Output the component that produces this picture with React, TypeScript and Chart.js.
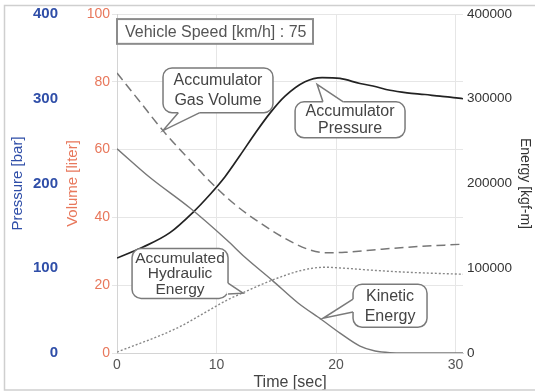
import React, { useEffect, useRef } from "react";
import { Chart, registerables } from "chart.js";

Chart.register(...registerables);

// ---- Data (time axis as drawn; left edge is labelled "0") ----
const X_MIN = 1.67;
const X_MAX = 30.62;
const xTickValues = [X_MIN, 10, 20, 30];
const xTickLabels = ["0", "10", "20", "30"];

const pressureTime = [1.67, 3.85, 6.1, 8.03, 9.45, 10.71, 11.96, 13.22, 14.47, 15.73, 17.4, 18.83, 20.33, 22.0, 23.09, 24.51, 25.94, 27.44, 28.7, 29.53, 30.62];
const pressureBar = [112, 125, 142, 166, 187, 208, 233, 259, 283, 303, 320, 325, 324, 318, 315, 310, 307, 305, 303, 302, 300];

const gasTime = [1.67, 3.59, 5.52, 7.78, 9.62, 11.54, 13.47, 15.73, 17.65, 19.08, 20.75, 23.09, 25.94, 30.62];
const gasVolume = [82.6, 74.1, 65.6, 56.8, 50.0, 43.8, 38.8, 33.8, 30.6, 29.6, 29.7, 30.4, 31.2, 32.1];

const kineticTime = [1.67, 4.43, 7.78, 10.88, 12.38, 14.64, 16.82, 18.83, 20.33, 22.0, 23.26, 24.51, 27.28, 30.62];
const kineticEnergy = [241000, 207000, 171000, 133000, 113000, 86000, 59000, 39000, 23500, 8200, 2400, 500, 0, 0];

const hydraulicTime = [1.67, 6.69, 10.88, 12.13, 14.64, 17.15, 19.08, 20.75, 23.09, 25.94, 30.62];
const hydraulicEnergy = [1000, 29400, 62400, 70600, 85900, 97600, 101200, 100000, 97600, 95300, 92900];

const speedLabel = "Vehicle Speed [km/h] : 75";

// Callouts: box in (time, volume-axis) units; tip on a data axis
type Callout = {
  lines: string[];
  x0: number; x1: number; y0: number; y1: number;
  tipX: number; tipY: number; tipAxis: string;
  side: "top" | "bottom" | "left" | "right";
  b0: number; b1: number; lineH: number; size: number;
};

const callouts: Callout[] = [
  { lines: ["Accumulator", "Gas Volume"], x0: 5.52, x1: 14.72, y0: 84.1, y1: 70.9, tipX: 5.52, tipY: 65.6, tipAxis: "vol", side: "bottom", b0: 6.8, b1: 8.6, lineH: 20, size: 16 },
  { lines: ["Accumulator", "Pressure"], x0: 16.57, x1: 25.77, y0: 74.1, y1: 63.5, tipX: 18.41, tipY: 317, tipAxis: "pressure", side: "top", b0: 18.9, b1: 20.6, lineH: 17, size: 16 },
  { lines: ["Accumulated", "Hydraulic", "Energy"], x0: 2.93, x1: 10.96, y0: 30.8, y1: 16.1, tipX: 12.21, tipY: 70600, tipAxis: "energy", side: "right", b0: 20.6, b1: 17.4, lineH: 15.5, size: 15.5 },
  { lines: ["Kinetic", "Energy"], x0: 21.42, x1: 27.61, y0: 20.3, y1: 7.6, tipX: 18.91, tipY: 41000, tipAxis: "energy", side: "left", b0: 15.9, b1: 12.1, lineH: 20, size: 16 },
];

const FONT = "'Liberation Sans', Arial, sans-serif";

const toPts = (xs: number[], ys: number[]) => xs.map((x, i) => ({ x, y: ys[i] }));

const overlayPlugin = {
  id: "overlay",
  afterDatasetsDraw(chart: any) {
    const ctx: CanvasRenderingContext2D = chart.ctx;
    const xs = chart.scales.x;
    const vs = chart.scales.vol;
    ctx.save();
    // speed box
    {
      const L = xs.getPixelForValue(X_MIN);
      const R = xs.getPixelForValue(18.07);
      const T = vs.getPixelForValue(98.5);
      const B = vs.getPixelForValue(91.2);
      ctx.fillStyle = "#fff";
      ctx.fillRect(L, T, R - L, B - T);
      ctx.strokeStyle = "#8c8c8c";
      ctx.lineWidth = 2;
      ctx.strokeRect(L, T, R - L, B - T);
      ctx.fillStyle = "#555";
      ctx.font = `16px ${FONT}`;
      ctx.textAlign = "left";
      ctx.textBaseline = "middle";
      ctx.fillText(speedLabel, L + 8, (T + B) / 2 + 1);
    }
    for (const c of callouts) {
      const L = xs.getPixelForValue(c.x0);
      const R = xs.getPixelForValue(c.x1);
      const T = vs.getPixelForValue(c.y0);
      const B = vs.getPixelForValue(c.y1);
      const tx = xs.getPixelForValue(c.tipX);
      const ty = chart.scales[c.tipAxis].getPixelForValue(c.tipY);
      let p0: number[], p1: number[];
      if (c.side === "bottom") { p0 = [xs.getPixelForValue(c.b0), B]; p1 = [xs.getPixelForValue(c.b1), B]; }
      else if (c.side === "top") { p0 = [xs.getPixelForValue(c.b0), T]; p1 = [xs.getPixelForValue(c.b1), T]; }
      else if (c.side === "left") { p0 = [L, vs.getPixelForValue(c.b0)]; p1 = [L, vs.getPixelForValue(c.b1)]; }
      else { p0 = [R, vs.getPixelForValue(c.b0)]; p1 = [R, vs.getPixelForValue(c.b1)]; }
      ctx.lineWidth = 1.5;
      ctx.strokeStyle = "#7a7a7a";
      ctx.fillStyle = "#fff";
      ctx.beginPath();
      (ctx as any).roundRect(L, T, R - L, B - T, 9);
      ctx.fill();
      ctx.stroke();
      ctx.beginPath();
      ctx.moveTo(p0[0], p0[1]);
      ctx.lineTo(tx, ty);
      ctx.lineTo(p1[0], p1[1]);
      ctx.closePath();
      ctx.fill();
      ctx.beginPath();
      ctx.moveTo(p0[0], p0[1]);
      ctx.lineTo(p1[0], p1[1]);
      ctx.strokeStyle = "#fff";
      ctx.lineWidth = 3;
      ctx.stroke();
      ctx.beginPath();
      ctx.moveTo(p0[0], p0[1]);
      ctx.lineTo(tx, ty);
      ctx.lineTo(p1[0], p1[1]);
      ctx.strokeStyle = "#7a7a7a";
      ctx.lineWidth = 1.5;
      ctx.stroke();
      ctx.fillStyle = "#444";
      ctx.font = `${c.size}px ${FONT}`;
      ctx.textAlign = "center";
      ctx.textBaseline = "middle";
      const cx = (L + R) / 2;
      const cy = (T + B) / 2;
      const n = c.lines.length;
      c.lines.forEach((s, i) => {
        ctx.fillText(s, cx, cy + (i - (n - 1) / 2) * c.lineH + 0.5);
      });
    }
    ctx.restore();
  },
  afterDraw(chart: any) {
    const ctx: CanvasRenderingContext2D = chart.ctx;
    ctx.save();
    ctx.strokeStyle = "#cfcfcf";
    ctx.lineWidth = 1.5;
    ctx.strokeRect(4.5, 5.5, 540, 384.5);
    ctx.restore();
  },
};

export default function App() {
  const ref = useRef<HTMLCanvasElement | null>(null);
  useEffect(() => {
    if (!ref.current) return;
    Chart.defaults.font.family = FONT;
    const chart = new Chart(ref.current, {
      type: "line",
      data: {
        datasets: [
          { label: "Kinetic Energy", data: toPts(kineticTime, kineticEnergy), yAxisID: "energy", borderColor: "#777", borderWidth: 1.4, pointRadius: 0, cubicInterpolationMode: "monotone" },
          { label: "Accumulated Hydraulic Energy", data: toPts(hydraulicTime, hydraulicEnergy), yAxisID: "energy", borderColor: "#888", borderWidth: 1.4, borderDash: [2, 2], pointRadius: 0, cubicInterpolationMode: "monotone" },
          { label: "Accumulator Gas Volume", data: toPts(gasTime, gasVolume), yAxisID: "vol", borderColor: "#777", borderWidth: 1.5, borderDash: [9, 5], pointRadius: 0, cubicInterpolationMode: "monotone" },
          { label: "Accumulator Pressure", data: toPts(pressureTime, pressureBar), yAxisID: "pressure", borderColor: "#222", borderWidth: 1.7, pointRadius: 0, cubicInterpolationMode: "monotone" },
        ] as any,
      },
      options: {
        responsive: false,
        animation: false,
        devicePixelRatio: 1,
        layout: { padding: { top: 14, left: 0, right: 0, bottom: 0 } },
        plugins: { legend: { display: false }, tooltip: { enabled: false } },
        scales: {
          x: {
            type: "linear",
            min: X_MIN,
            max: X_MAX,
            afterBuildTicks: (s: any) => { s.ticks = xTickValues.map((v) => ({ value: v })); },
            afterFit: (s: any) => { s.height = 39; },
            ticks: { callback: (_v: any, i: number) => xTickLabels[i], color: "#555", font: { size: 14 }, padding: 4, maxRotation: 0, autoSkip: false },
            grid: { color: "#e6e6e6", drawTicks: false },
            border: { color: "#d4d4d4" },
            title: { display: true, text: "Time [sec]", color: "#444", font: { size: 16 }, padding: { top: 0, bottom: 0 } },
          },
          pressure: {
            position: "left",
            weight: 2,
            min: 0,
            max: 400,
            afterFit: (s: any) => { s.width = 62; },
            ticks: { stepSize: 100, color: "#2f4ea8", font: { size: 15, weight: "bold" }, padding: 4, callback: (v: any) => String(v) },
            grid: { display: false, drawTicks: false },
            border: { display: false },
            title: { display: true, text: "Pressure [bar]", color: "#2f4ea8", font: { size: 15 }, padding: { top: 9, bottom: 0 } },
          },
          vol: {
            position: "left",
            weight: 1,
            min: 0,
            max: 100,
            afterFit: (s: any) => { s.width = 55; },
            ticks: { stepSize: 20, color: "#e8785c", font: { size: 14 }, padding: 2, callback: (v: any) => String(v) },
            grid: { color: "#e6e6e6", drawTicks: true, tickLength: 5 },
            border: { color: "#d4d4d4" },
            title: { display: true, text: "Volume [liter]", color: "#e8785c", font: { size: 15 }, padding: { top: 2, bottom: 0 } },
          },
          energy: {
            position: "right",
            min: 0,
            max: 400000,
            afterFit: (s: any) => { s.width = 72; },
            ticks: { stepSize: 100000, color: "#333", font: { size: 13.5 }, padding: 4, callback: (v: any) => String(v) },
            grid: { display: false, drawTicks: false },
            border: { display: false },
            title: { display: true, text: "Energy [kgf-m]", color: "#333", font: { size: 14 }, padding: { top: 2, bottom: 0 } },
          },
        },
      } as any,
      plugins: [overlayPlugin],
    });
    return () => chart.destroy();
  }, []);
  return (
    <div style={{ position: "fixed", left: 0, top: 0, width: 535, height: 392, background: "#fff" }}>
      <canvas ref={ref} width={535} height={392} style={{ display: "block" }} />
    </div>
  );
}
